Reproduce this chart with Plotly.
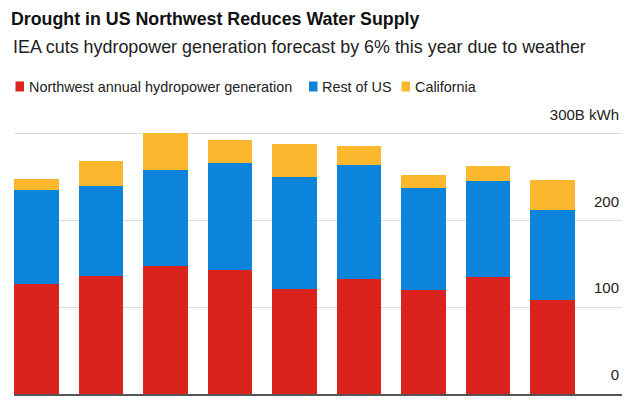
import plotly.graph_objects as go

# ---- data ----
categories = ["1", "2", "3", "4", "5", "6", "7", "8", "9"]
northwest = [127, 136, 147, 143, 121, 132, 120, 135, 108]
rest_of_us = [108, 103, 111, 123, 129, 132, 117, 110, 104]
california = [12, 29, 42, 26, 38, 21, 15, 17, 34]

tick_vals = [0, 100, 200, 300]
tick_text = ["0", "100", "200", "300B kWh"]

series_names = ["Northwest annual hydropower generation", "Rest of US", "California"]
colors = ["#d9231c", "#0c84dc", "#fbb72d"]

FONT = "Liberation Sans, Arial, Helvetica, sans-serif"

W, H = 640, 402
PX_PER_UNIT = (394 - 133) / 300
Y_MAX = 335
L, R = 14, 622          # plot area in px
B = 394
T = B - Y_MAX * PX_PER_UNIT


def px_x(p):
    return (p - L) / (R - L)


def px_y(p):
    return (B - p) / (B - T)


fig = go.Figure()
for name, vals, col in zip(series_names, [northwest, rest_of_us, california], colors):
    fig.add_trace(go.Bar(x=categories, y=vals, name=name,
                         marker=dict(color=col, line=dict(width=0)),
                         showlegend=False))

# manual legend
legend_items = [(15.5, 27, series_names[0], colors[0]),
                (309, 320, series_names[1], colors[1]),
                (401.5, 413, series_names[2], colors[2])]
shapes = []
annotations = []
for sq_x, tx, txt, col in legend_items:
    shapes.append(dict(type="rect", xref="paper", yref="paper",
                       x0=px_x(sq_x), x1=px_x(sq_x + 8.5),
                       y0=px_y(91), y1=px_y(81),
                       fillcolor=col, line=dict(width=0)))
    annotations.append(dict(text=txt, xref="paper", yref="paper",
                            x=px_x(tx), y=px_y(86.5), xanchor="left", yanchor="middle",
                            showarrow=False, font=dict(family=FONT, size=14.4, color="#222")))

# subtitle
annotations.append(dict(text="IEA cuts hydropower generation forecast by 6% this year due to weather",
                        xref="paper", yref="paper", x=px_x(11), y=px_y(46),
                        xanchor="left", yanchor="middle", showarrow=False,
                        font=dict(family=FONT, size=17.9, color="#222")))

fig.update_layout(
    width=W, height=H,
    margin=dict(l=L, r=W - R, t=T, b=H - B, pad=0),
    paper_bgcolor="white", plot_bgcolor="white",
    barmode="stack", bargap=0.31,
    title=dict(text="<b>Drought in US Northwest Reduces Water Supply</b>",
               x=11 / W, xanchor="left", xref="container",
               y=1 - 18.5 / H, yanchor="middle", yref="container",
               font=dict(family=FONT, size=17.8, color="#111")),
    font=dict(family=FONT, color="#222"),
    shapes=shapes, annotations=annotations,
    xaxis=dict(type="category", range=[-0.352, 9.082], showticklabels=False,
               ticks="", showgrid=False, showline=True, linecolor="#555",
               linewidth=1.5, zeroline=False, fixedrange=True),
    yaxis=dict(range=[0, Y_MAX], side="right", tickvals=tick_vals, ticktext=tick_text,
               ticklabelposition="inside", ticklabelshift=-19, ticks="",
               tickfont=dict(family=FONT, size=15, color="#222"),
               showgrid=True, gridcolor="#dddddd", gridwidth=1,
               zeroline=False, showline=False, fixedrange=True),
)

fig.write_html("out.html", config={"displayModeBar": False},
               post_script="document.body.style.margin='0';document.body.style.padding='0';")
